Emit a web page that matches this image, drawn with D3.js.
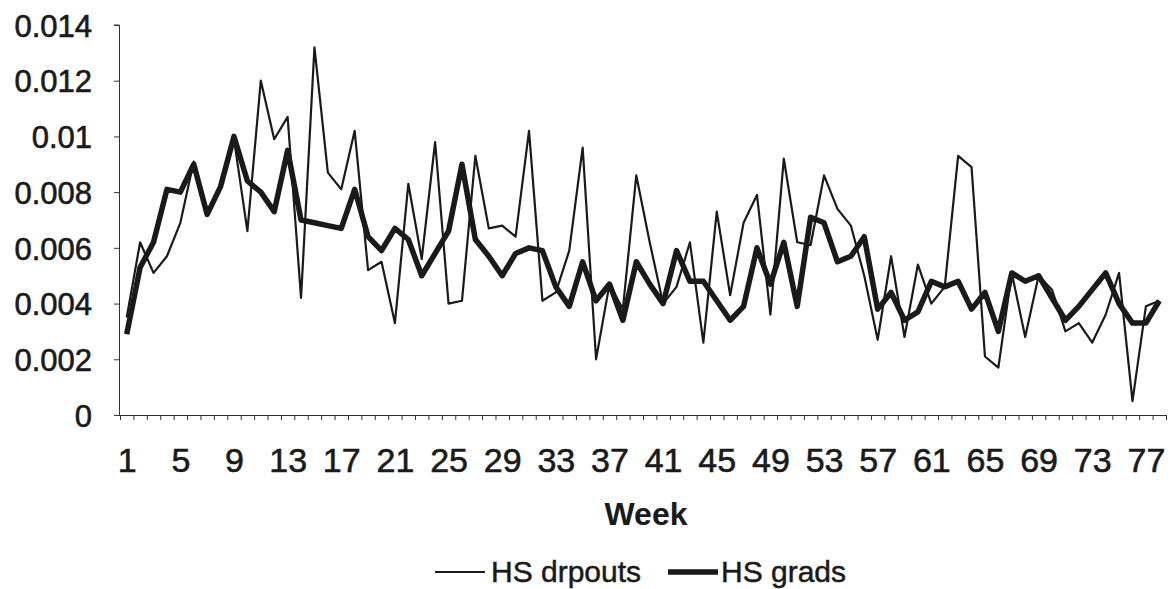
<!DOCTYPE html>
<head>
  <meta charset="UTF-8">
  <style>
      body { margin: 0; background: #fff; }
      svg { display: block; font-family: "Liberation Sans", Arial, sans-serif; }
      .axis path, .axis line { stroke: #333; }
      .axis text { fill: #1a1a1a; stroke: #1a1a1a; stroke-width: 0.6px; }
      .narrow text { font-family: "Liberation Sans Narrow", "Arial Narrow", sans-serif; }
  </style>
</head>
<body>
  <script src="https://d3js.org/d3.v7.min.js"></script>
  <div id="chart"></div>
<script>

  // weeks 1..78
  var weeks = [1,2,3,4,5,6,7,8,9,10,11,12,13,14,15,16,17,18,19,20,21,22,23,24,25,26,
    27,28,29,30,31,32,33,34,35,36,37,38,39,40,41,42,43,44,45,46,47,48,49,50,51,52,
    53,54,55,56,57,58,59,60,61,62,63,64,65,66,67,68,69,70,71,72,73,74,75,76,77,78];

  var drpouts = [0.0035,0.0062,0.0051,0.0057,0.0069,0.0091,0.0072,0.0082,0.0099,0.0066,
    0.0120,0.0099,0.0107,0.0042,0.0132,0.0087,0.0081,0.0102,0.0052,0.0055,
    0.0033,0.0083,0.0056,0.0098,0.0040,0.0041,0.0093,0.0067,0.0068,0.0064,
    0.0102,0.0041,0.0044,0.0059,0.0096,0.0020,0.0047,0.0038,0.0086,0.0062,
    0.0040,0.0046,0.0062,0.0026,0.0073,0.0043,0.0069,0.0079,0.0036,0.0092,
    0.0062,0.0061,0.0086,0.0074,0.0068,0.0050,0.0027,0.0057,0.0028,0.0054,
    0.0040,0.0046,0.0093,0.0089,0.0021,0.0017,0.0051,0.0028,0.0050,0.0045,
    0.0030,0.0033,0.0026,0.0036,0.0051,0.0005,0.0039,0.0041];

  var grads = [0.0029,0.0053,0.0062,0.0081,0.0080,0.0090,0.0072,0.0082,0.0100,0.0084,
    0.0080,0.0073,0.0095,0.0070,0.0069,0.0068,0.0067,0.0081,0.0064,0.0059,
    0.0067,0.0063,0.0050,0.0058,0.0066,0.0090,0.0063,0.0057,0.0050,0.0058,
    0.0060,0.0059,0.0046,0.0039,0.0055,0.0041,0.0047,0.0034,0.0055,0.0047,
    0.0040,0.0059,0.0048,0.0048,0.0041,0.0034,0.0039,0.0060,0.0047,0.0062,
    0.0039,0.0071,0.0069,0.0055,0.0057,0.0064,0.0038,0.0044,0.0034,0.0037,
    0.0048,0.0046,0.0048,0.0038,0.0044,0.0030,0.0051,0.0048,0.0050,0.0042,
    0.0034,0.0039,0.0045,0.0051,0.0040,0.0033,0.0033,0.0041];

  var xTickWeeks = [1,5,9,13,17,21,25,29,33,37,41,45,49,53,57,61,65,69,73,77];
  var yTicks = [0,0.002,0.004,0.006,0.008,0.01,0.012,0.014];
  var yTickLabels = ["0","0.002","0.004","0.006","0.008","0.01","0.012","0.014"];

  var width = 1174, height = 589;
  var margin = {top: 25, right: 8, bottom: 174, left: 120};

  var svg = d3.select("#chart")
    .append("svg")
      .attr("width", width)
      .attr("height", height);

  // category axis: week n sits in the middle of its slot
  var x = d3.scaleLinear()
    .domain([0.5, weeks.length + 0.5])
    .range([margin.left, width - margin.right]);

  var y = d3.scaleLinear()
    .domain([0, 0.014])
    .range([height - margin.bottom, margin.top]);

  // y axis
  var yAxis = svg.append("g")
    .attr("class", "axis")
    .attr("transform", "translate(" + margin.left + ",0)")
    .call(d3.axisLeft(y)
      .tickValues(yTicks)
      .tickSize(6)
      .tickPadding(22)
      .tickFormat(function(d, i){ return yTickLabels[i]; }));
  yAxis.select(".domain").attr("d", "M-0.5," + y(0) + "V" + y(0.014) + "H-6");
  yAxis.selectAll("text").style("font-size", "31px").attr("dy", "0.36em");

  // x axis line + tick marks between weeks
  var boundaries = weeks.map(function(w){ return w - 0.5; }).concat([weeks.length + 0.5]);
  svg.append("g")
    .attr("class", "axis")
    .attr("transform", "translate(0," + y(0) + ")")
    .call(d3.axisBottom(x).tickValues(boundaries).tickSize(5).tickSizeOuter(0).tickFormat(""));

  // week labels
  svg.append("g")
    .attr("class", "axis narrow")
    .attr("transform", "translate(0," + y(0) + ")")
    .call(d3.axisBottom(x).tickValues(xTickWeeks).tickSize(0).tickPadding(33).tickFormat(d3.format("d")))
    .call(function(g){ g.select(".domain").remove(); })
    .selectAll("text").style("font-size", "34px");

  svg.append("text")
    .attr("x", 646)
    .attr("y", 525)
    .attr("text-anchor", "middle")
    .attr("font-weight", "bold")
    .attr("font-size", "32px")
    .attr("fill", "#1a1a1a")
    .text("Week");

  var line = function(vals) {
    return d3.line()
      .x(function(d, i){ return x(weeks[i]); })
      .y(function(d){ return y(d); })(vals);
  };

  svg.append("path")
    .attr("d", line(grads))
    .attr("fill", "none")
    .attr("stroke", "#1a1a1a")
    .attr("stroke-width", 5.5)
    .attr("stroke-linejoin", "round");

  svg.append("path")
    .attr("d", line(drpouts))
    .attr("fill", "none")
    .attr("stroke", "#1a1a1a")
    .attr("stroke-width", 2.2)
    .attr("stroke-linejoin", "round");

  // legend
  var legend = svg.append("g").attr("transform", "translate(0,572)");
  legend.append("line").attr("x1", 435).attr("x2", 485).attr("y1", 0).attr("y2", 0)
    .attr("stroke", "#1a1a1a").attr("stroke-width", 2.2);
  legend.append("text").attr("x", 491).attr("y", 10).attr("font-size", "30px")
    .attr("fill", "#1a1a1a").attr("stroke", "#1a1a1a").attr("stroke-width", 0.5)
    .text("HS drpouts");
  legend.append("line").attr("x1", 668).attr("x2", 718).attr("y1", 0).attr("y2", 0)
    .attr("stroke", "#1a1a1a").attr("stroke-width", 5.5);
  legend.append("text").attr("x", 721).attr("y", 10).attr("font-size", "30px")
    .attr("fill", "#1a1a1a").attr("stroke", "#1a1a1a").attr("stroke-width", 0.5)
    .text("HS grads");

</script>
</body>
</html>
